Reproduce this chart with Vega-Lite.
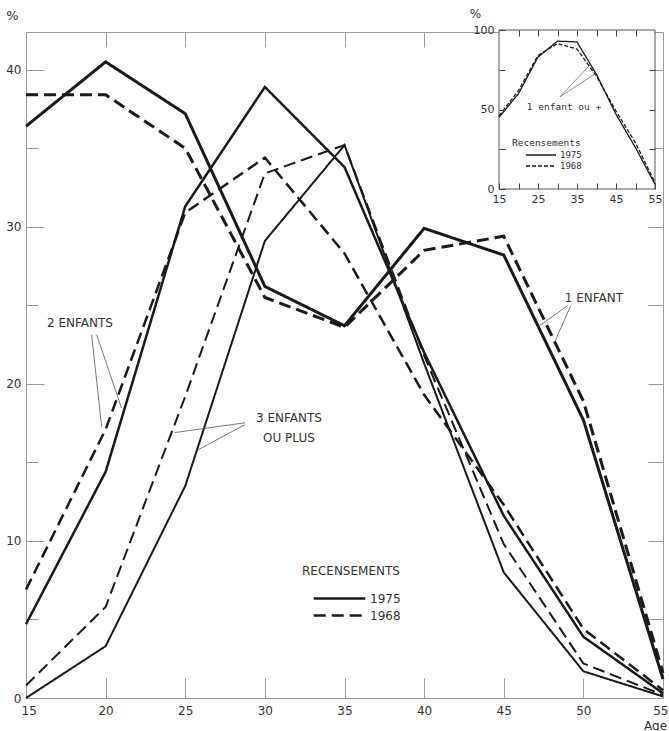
{
  "$schema": "https://vega.github.io/schema/vega-lite/v6.json",
  "width": 637,
  "height": 666,
  "autosize": {"type": "none"},
  "padding": {"left": 26, "top": 32, "right": 6, "bottom": 33},
  "background": "white",
  "config": {
    "view": {"stroke": null},
    "font": "DejaVu Sans",
    "axis": {"domainColor": "#999", "tickColor": "#999", "labelColor": "#333", "titleColor": "#333", "grid": false, "labelFont": "DejaVu Sans", "titleFont": "DejaVu Sans", "titleFontWeight": "normal", "labelFontSize": 12}
  },
  "datasets": {
    "main": [
      {"age": 15, "pct": 36.4, "enfants": "1", "annee": "1975"},
      {"age": 20, "pct": 40.5, "enfants": "1", "annee": "1975"},
      {"age": 25, "pct": 37.2, "enfants": "1", "annee": "1975"},
      {"age": 30, "pct": 26.2, "enfants": "1", "annee": "1975"},
      {"age": 35, "pct": 23.7, "enfants": "1", "annee": "1975"},
      {"age": 40, "pct": 29.9, "enfants": "1", "annee": "1975"},
      {"age": 45, "pct": 28.2, "enfants": "1", "annee": "1975"},
      {"age": 50, "pct": 17.7, "enfants": "1", "annee": "1975"},
      {"age": 55, "pct": 1.2, "enfants": "1", "annee": "1975"},
      {"age": 15, "pct": 38.4, "enfants": "1", "annee": "1968"},
      {"age": 20, "pct": 38.4, "enfants": "1", "annee": "1968"},
      {"age": 25, "pct": 35.0, "enfants": "1", "annee": "1968"},
      {"age": 30, "pct": 25.5, "enfants": "1", "annee": "1968"},
      {"age": 35, "pct": 23.6, "enfants": "1", "annee": "1968"},
      {"age": 40, "pct": 28.5, "enfants": "1", "annee": "1968"},
      {"age": 45, "pct": 29.4, "enfants": "1", "annee": "1968"},
      {"age": 50, "pct": 18.9, "enfants": "1", "annee": "1968"},
      {"age": 55, "pct": 1.6, "enfants": "1", "annee": "1968"},
      {"age": 15, "pct": 4.7, "enfants": "2", "annee": "1975"},
      {"age": 20, "pct": 14.4, "enfants": "2", "annee": "1975"},
      {"age": 25, "pct": 31.3, "enfants": "2", "annee": "1975"},
      {"age": 30, "pct": 38.9, "enfants": "2", "annee": "1975"},
      {"age": 35, "pct": 33.8, "enfants": "2", "annee": "1975"},
      {"age": 40, "pct": 22.0, "enfants": "2", "annee": "1975"},
      {"age": 45, "pct": 11.6, "enfants": "2", "annee": "1975"},
      {"age": 50, "pct": 3.9, "enfants": "2", "annee": "1975"},
      {"age": 55, "pct": 0.3, "enfants": "2", "annee": "1975"},
      {"age": 15, "pct": 6.9, "enfants": "2", "annee": "1968"},
      {"age": 20, "pct": 17.1, "enfants": "2", "annee": "1968"},
      {"age": 25, "pct": 30.9, "enfants": "2", "annee": "1968"},
      {"age": 30, "pct": 34.4, "enfants": "2", "annee": "1968"},
      {"age": 35, "pct": 28.3, "enfants": "2", "annee": "1968"},
      {"age": 40, "pct": 19.3, "enfants": "2", "annee": "1968"},
      {"age": 45, "pct": 12.3, "enfants": "2", "annee": "1968"},
      {"age": 50, "pct": 4.4, "enfants": "2", "annee": "1968"},
      {"age": 55, "pct": 0.5, "enfants": "2", "annee": "1968"},
      {"age": 15, "pct": 0.0, "enfants": "3", "annee": "1975"},
      {"age": 20, "pct": 3.3, "enfants": "3", "annee": "1975"},
      {"age": 25, "pct": 13.5, "enfants": "3", "annee": "1975"},
      {"age": 30, "pct": 29.1, "enfants": "3", "annee": "1975"},
      {"age": 35, "pct": 35.2, "enfants": "3", "annee": "1975"},
      {"age": 40, "pct": 21.3, "enfants": "3", "annee": "1975"},
      {"age": 45, "pct": 8.0, "enfants": "3", "annee": "1975"},
      {"age": 50, "pct": 1.7, "enfants": "3", "annee": "1975"},
      {"age": 55, "pct": 0.1, "enfants": "3", "annee": "1975"},
      {"age": 15, "pct": 0.8, "enfants": "3", "annee": "1968"},
      {"age": 20, "pct": 5.8, "enfants": "3", "annee": "1968"},
      {"age": 25, "pct": 19.2, "enfants": "3", "annee": "1968"},
      {"age": 30, "pct": 33.4, "enfants": "3", "annee": "1968"},
      {"age": 35, "pct": 35.2, "enfants": "3", "annee": "1968"},
      {"age": 40, "pct": 21.8, "enfants": "3", "annee": "1968"},
      {"age": 45, "pct": 9.8, "enfants": "3", "annee": "1968"},
      {"age": 50, "pct": 2.2, "enfants": "3", "annee": "1968"},
      {"age": 55, "pct": 0.2, "enfants": "3", "annee": "1968"}
    ],
    "inset": [
      {"age": 15, "pct": 45, "annee": "1975"},
      {"age": 20, "pct": 60, "annee": "1975"},
      {"age": 25, "pct": 83, "annee": "1975"},
      {"age": 30, "pct": 93, "annee": "1975"},
      {"age": 35, "pct": 92.5, "annee": "1975"},
      {"age": 40, "pct": 72, "annee": "1975"},
      {"age": 45, "pct": 47, "annee": "1975"},
      {"age": 50, "pct": 26, "annee": "1975"},
      {"age": 55, "pct": 3, "annee": "1975"},
      {"age": 15, "pct": 46, "annee": "1968"},
      {"age": 20, "pct": 62, "annee": "1968"},
      {"age": 25, "pct": 84, "annee": "1968"},
      {"age": 30, "pct": 91.5, "annee": "1968"},
      {"age": 35, "pct": 88, "annee": "1968"},
      {"age": 40, "pct": 71, "annee": "1968"},
      {"age": 45, "pct": 49, "annee": "1968"},
      {"age": 50, "pct": 29, "annee": "1968"},
      {"age": 55, "pct": 4, "annee": "1968"}
    ],
    "labels": [
      {"age": 18.39, "pct": 23.89, "text": "2 ENFANTS"},
      {"age": 31.51, "pct": 17.83, "text": "3 ENFANTS"},
      {"age": 31.51, "pct": 16.56, "text": "OU PLUS"},
      {"age": 50.66, "pct": 25.48, "text": "1 ENFANT"}
    ],
    "leaders": [
      {"age": 19.12, "pct": 23.12, "age2": 19.75, "pct2": 17.28},
      {"age": 19.44, "pct": 23.12, "age2": 21.0, "pct2": 18.45},
      {"age": 28.75, "pct": 17.52, "age2": 24.35, "pct2": 16.9},
      {"age": 28.75, "pct": 17.4, "age2": 25.8, "pct2": 15.8},
      {"age": 49.0, "pct": 24.97, "age2": 47.08, "pct2": 23.57},
      {"age": 49.2, "pct": 24.97, "age2": 48.15, "pct2": 22.55}
    ],
    "insetLabels": [
      {"age": 31.67, "pct": 51.6, "text": "1 enfant ou +"}
    ],
    "insetLeaders": [
      {"age": 30.64, "pct": 58.0, "age2": 38.3, "pct2": 78.0},
      {"age": 30.64, "pct": 58.0, "age2": 39.9, "pct2": 72.8}
    ]
  },
  "layer": [
    {
      "layer": [
        {
          "data": {"name": "main"},
          "mark": {"type": "line", "color": "#1a1a1a", "strokeCap": "butt", "strokeJoin": "miter"},
          "encoding": {
            "x": {"field": "age", "type": "quantitative", "scale": {"domain": [15, 55], "nice": false, "zero": false},
              "axis": {"orient": "bottom", "values": [15, 20, 25, 30, 35, 40, 45, 50, 55], "tickSize": -20, "labelPadding": 27, "labelFlush": true, "labelFlushOffset": 5, "labelOverlap": false, "title": "Age", "titleX": 629, "titleY": 27, "titleAlign": "center", "titleBaseline": "middle", "titleFontSize": 12}},
            "y": {"field": "pct", "type": "quantitative", "scale": {"domain": [0, 42.4], "nice": false},
              "axis": {"orient": "left", "values": [0, 10, 20, 30, 40], "tickSize": -18, "labelPadding": 23, "title": "%", "titleAngle": 0, "titleX": -14, "titleY": -17, "titleAlign": "center", "titleBaseline": "middle", "titleFontSize": 13}},
            "detail": {"field": "enfants"},
            "strokeWidth": {"field": "enfants", "type": "nominal", "scale": {"domain": ["1", "2", "3"], "range": [3, 2, 1.2]}, "legend": null},
            "strokeDash": {"field": "annee", "type": "nominal", "scale": {"domain": ["1975", "1968"], "range": [[1, 0], [12, 6]]},
              "legend": {"title": "RECENSEMENTS", "orient": "none", "legendX": 276, "legendY": 534, "symbolType": "stroke", "symbolSize": 2660, "symbolStrokeWidth": 2.5, "symbolStrokeColor": "#1a1a1a", "symbolOffset": 10, "labelOffset": 3, "labelFontSize": 12, "labelColor": "#333", "titleFontSize": 12, "titleFontWeight": "normal", "titleColor": "#333", "titlePadding": 12, "clipHeight": 17, "rowPadding": 0, "padding": 0, "zindex": 1}}
          }
        },
        {
          "data": {"name": "main"},
          "mark": {"type": "point", "opacity": 0},
          "encoding": {
            "x": {"field": "age", "type": "quantitative", "axis": {"orient": "top", "values": [20, 25, 30, 35, 40, 45, 50], "tickSize": -15, "labels": false, "title": null}},
            "y": {"field": "pct", "type": "quantitative", "axis": {"orient": "right", "values": [5, 10, 15, 20, 25, 30, 35, 40], "tickSize": -15, "labels": false, "title": null}}
          }
        },
        {
          "data": {"name": "main"},
          "mark": {"type": "point", "opacity": 0},
          "encoding": {
            "x": {"field": "age", "type": "quantitative", "axis": null},
            "y": {"field": "pct", "type": "quantitative", "axis": {"orient": "left", "values": [5, 15, 25, 35], "tickSize": -12, "labels": false, "domain": false, "title": null}}
          }
        },
        {
          "data": {"name": "leaders"},
          "mark": {"type": "rule", "color": "#555", "strokeWidth": 0.8},
          "encoding": {
            "x": {"field": "age", "type": "quantitative", "axis": null},
            "y": {"field": "pct", "type": "quantitative", "axis": null},
            "x2": {"field": "age2"},
            "y2": {"field": "pct2"}
          }
        },
        {
          "data": {"name": "labels"},
          "mark": {"type": "text", "font": "DejaVu Sans", "fontSize": 12, "color": "#333", "align": "center", "baseline": "middle"},
          "encoding": {
            "x": {"field": "age", "type": "quantitative", "axis": null},
            "y": {"field": "pct", "type": "quantitative", "axis": null},
            "text": {"field": "text"}
          }
        }
      ],
      "resolve": {"axis": {"x": "independent", "y": "independent"}}
    },
    {
      "layer": [
        {
          "data": {"values": [{}]},
          "mark": {"type": "rect", "fill": "white", "stroke": "#555", "strokeWidth": 1},
          "encoding": {
            "x": {"datum": 15, "type": "quantitative", "scale": {"domain": [15, 55], "range": [473, 629], "nice": false, "zero": false},
              "axis": {"orient": "bottom", "offset": -509, "values": [15, 20, 25, 30, 35, 40, 45, 50, 55], "labelExpr": "(datum.value - 15) % 10 === 0 ? datum.label : ''", "tickSize": -6, "tickColor": "#444", "labelPadding": 10, "labelFontSize": 11, "domain": false, "labelFlush": false, "labelOverlap": false, "title": null, "zindex": 1}},
            "x2": {"datum": 55},
            "y": {"datum": 0, "type": "quantitative", "scale": {"domain": [0, 100], "range": [157, -2], "nice": false},
              "axis": {"orient": "left", "offset": -473, "values": [0, 25, 50, 75, 100], "labelExpr": "datum.value % 50 === 0 ? datum.label : ''", "tickSize": -6, "tickColor": "#444", "labelPadding": 11, "labelFontSize": 11, "domain": false, "title": "%", "titleAngle": 0, "titleX": -24, "titleY": -19, "titleAlign": "center", "titleBaseline": "middle", "titleFontSize": 12, "zindex": 1}},
            "y2": {"datum": 100}
          }
        },
        {
          "data": {"name": "inset"},
          "mark": {"type": "line", "color": "#1a1a1a", "strokeWidth": 1.3},
          "encoding": {
            "x": {"field": "age", "type": "quantitative", "axis": {"orient": "top", "offset": 2, "values": [20, 25, 30, 35, 40, 45, 50], "tickSize": -6, "tickColor": "#444", "labels": false, "domain": false, "title": null, "zindex": 1}},
            "y": {"field": "pct", "type": "quantitative", "axis": {"orient": "right", "offset": -8, "values": [25, 50, 75], "tickSize": -6, "tickColor": "#444", "labels": false, "domain": false, "title": null, "zindex": 1}},
            "strokeDash": {"field": "annee", "type": "nominal", "scale": {"domain": ["1975", "1968"], "range": [[1, 0], [4, 2]]},
              "legend": {"title": "Recensements", "orient": "none", "legendX": 486, "legendY": 106, "symbolType": "stroke", "symbolSize": 900, "symbolStrokeWidth": 1.3, "symbolStrokeColor": "#1a1a1a", "symbolOffset": 13, "labelOffset": 3, "labelFont": "DejaVu Sans Mono", "labelFontSize": 9, "labelColor": "#333", "titleFont": "DejaVu Sans Mono", "titleFontSize": 9.5, "titleFontWeight": "normal", "titleColor": "#333", "titlePadding": 2, "clipHeight": 11, "rowPadding": 0, "padding": 0, "zindex": 1}}
          }
        },
        {
          "data": {"name": "insetLeaders"},
          "mark": {"type": "rule", "color": "#666", "strokeWidth": 0.7},
          "encoding": {
            "x": {"field": "age", "type": "quantitative", "axis": null},
            "y": {"field": "pct", "type": "quantitative", "axis": null},
            "x2": {"field": "age2"},
            "y2": {"field": "pct2"}
          }
        },
        {
          "data": {"name": "insetLabels"},
          "mark": {"type": "text", "font": "DejaVu Sans Mono", "fontSize": 9.5, "color": "#333", "align": "center", "baseline": "middle"},
          "encoding": {
            "x": {"field": "age", "type": "quantitative", "axis": null},
            "y": {"field": "pct", "type": "quantitative", "axis": null},
            "text": {"field": "text"}
          }
        }
      ],
      "resolve": {"axis": {"x": "independent", "y": "independent"}}
    }
  ],
  "resolve": {"scale": {"x": "independent", "y": "independent", "strokeDash": "independent"}, "legend": {"strokeDash": "independent"}}
}
